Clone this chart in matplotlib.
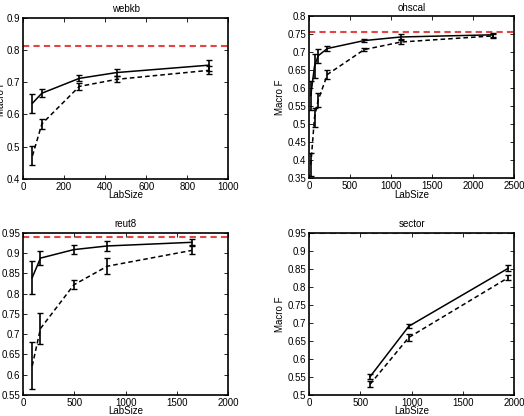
import matplotlib
matplotlib.use('Agg')
import matplotlib.pyplot as plt
from matplotlib.ticker import FuncFormatter

plt.rcParams['font.family'] = ['Liberation Sans', 'DejaVu Sans']
plt.rcParams['font.size'] = 7

# webkb
webkb_x = [46, 92, 274, 456, 907]
webkb_a = [0.635, 0.666, 0.712, 0.730, 0.753]
webkb_a_err = [0.029, 0.013, 0.009, 0.010, 0.017]
webkb_b = [0.472, 0.571, 0.687, 0.709, 0.737]
webkb_b_err = [0.030, 0.016, 0.010, 0.009, 0.013]
webkb_ref = 0.812

# ohscal
ohscal_x = [22, 67, 112, 224, 672, 1120, 2240]
ohscal_a = [0.580, 0.661, 0.690, 0.710, 0.732, 0.742, 0.748]
ohscal_a_err = [0.040, 0.034, 0.020, 0.007, 0.003, 0.007, 0.006]
ohscal_b = [0.388, 0.519, 0.567, 0.638, 0.707, 0.728, 0.745]
ohscal_b_err = [0.032, 0.027, 0.020, 0.013, 0.004, 0.006, 0.005]
ohscal_ref = 0.755

# reut8
reut8_x = [90, 170, 495, 821, 1643]
reut8_a = [0.840, 0.888, 0.909, 0.918, 0.927]
reut8_a_err = [0.041, 0.018, 0.011, 0.012, 0.007]
reut8_b = [0.622, 0.714, 0.822, 0.868, 0.907]
reut8_b_err = [0.058, 0.039, 0.011, 0.020, 0.010]
reut8_ref = 0.941

# sector
sector_x = [595, 972, 1940]
sector_a = [0.551, 0.691, 0.852]
sector_a_err = [0.006, 0.006, 0.008]
sector_b = [0.530, 0.660, 0.826]
sector_b_err = [0.008, 0.009, 0.007]
sector_ref = 0.95

panels = [
    ('webkb', webkb_x, webkb_a, webkb_a_err, webkb_b, webkb_b_err, webkb_ref,
     (0, 1000), (0.4, 0.9), [0, 200, 400, 600, 800, 1000], 0.1,
     [0.0439, 0.5697, 0.392, 0.3877], -0.082),
    ('ohscal', ohscal_x, ohscal_a, ohscal_a_err, ohscal_b, ohscal_b_err, ohscal_ref,
     (0, 2500), (0.35, 0.8), [0, 500, 1000, 1500, 2000, 2500], 0.05,
     [0.5897, 0.5714, 0.392, 0.390], -0.116),
    ('reut8', reut8_x, reut8_a, reut8_a_err, reut8_b, reut8_b_err, reut8_ref,
     (0, 2000), (0.55, 0.95), [0, 500, 1000, 1500, 2000], 0.05,
     [0.0439, 0.0505, 0.392, 0.3894], -0.095),
    ('sector', sector_x, sector_a, sector_a_err, sector_b, sector_b_err, sector_ref,
     (0, 2000), (0.5, 0.95), [0, 500, 1000, 1500, 2000], 0.05,
     [0.5897, 0.0505, 0.392, 0.3894], -0.116),
]

fig = plt.figure(figsize=(5.24, 4.16), dpi=100)
fmt = FuncFormatter(lambda v, p: ('%.2f' % v).rstrip('0').rstrip('.'))

for (name, x, a, ae, b, be, ref, xl, yl, xt, ystep, pos, ylab_x) in panels:
    ax = fig.add_axes(pos)
    ax.axhline(ref, color='#e03030', lw=1.5, ls=(0, (3, 2)), alpha=0.9, zorder=1)
    ax.errorbar(x, a, yerr=ae, color='black', lw=1.1, elinewidth=1.2,
                capsize=2.5, capthick=1.0, zorder=3)
    ax.errorbar(x, b, yerr=be, color='black', lw=1.1, ls=(0, (3, 2)),
                elinewidth=1.2, capsize=2.5, capthick=1.0, zorder=3)
    ax.set_xlim(*xl)
    ax.set_ylim(*yl)
    ax.set_xticks(xt)
    n = int(round((yl[1] - yl[0]) / ystep))
    ax.set_yticks([yl[0] + i * ystep for i in range(n + 1)])
    ax.yaxis.set_major_formatter(fmt)
    ax.tick_params(direction='in', top=True, right=True, length=3, width=0.6,
                   labelsize=7, pad=2)
    for s in ax.spines.values():
        s.set_linewidth(1.2)
    ax.set_title(name, fontsize=7, pad=4)
    ax.set_xlabel('LabSize', fontsize=7, labelpad=-1)
    ax.set_ylabel('Macro F', fontsize=7)
    ax.yaxis.set_label_coords(ylab_x, 0.5)

fig.savefig('out.png', dpi=100)
